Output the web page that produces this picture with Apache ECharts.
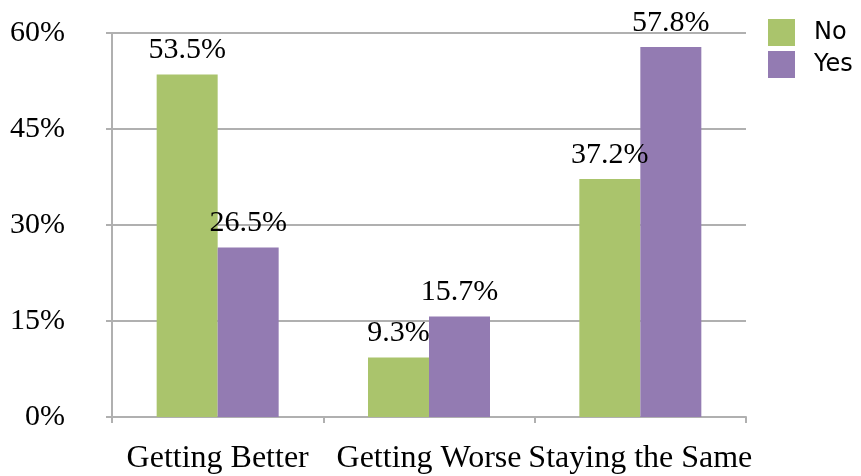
<!DOCTYPE html>
<html>
<head>
<meta charset="utf-8">
<script src="https://cdn.jsdelivr.net/npm/echarts@6/dist/echarts.min.js"></script>
<style>
  html, body { margin: 0; padding: 0; background: #fff; }
  #chart { width: 861px; height: 476px; }
</style>
</head>
<body>
<div id="chart"></div>
<script>
// Outlook by group, share of respondents (%)
const categories = ['Getting Better', 'Getting Worse', 'Staying the Same'];
const seriesNames = ['No', 'Yes'];
const noValues = [53.5, 9.3, 37.2];
const yesValues = [26.5, 15.7, 57.8];

const GRAY = '#B0B0B0';
const SERIF = '"Liberation Serif", "DejaVu Serif", serif';

const chart = echarts.init(document.getElementById('chart'), null, { renderer: 'canvas' });

const valueLabel = {
  show: true,
  position: 'top',
  distance: 9,
  color: '#000',
  fontFamily: SERIF,
  fontSize: 30,
  formatter: p => p.value.toFixed(1) + '%'
};

chart.setOption({
  animation: false,
  backgroundColor: '#fff',
  grid: { left: 112, right: 115, top: 33, bottom: 59 },
  legend: {
    orient: 'vertical',
    left: 763,
    top: 14,
    itemWidth: 27,
    itemHeight: 27,
    itemGap: 5,
    icon: 'rect',
    textStyle: {
      fontFamily: '"DejaVu Sans", sans-serif',
      fontSize: 24,
      color: '#000',
      padding: [0, 0, 0, 14]
    },
    data: seriesNames
  },
  xAxis: {
    type: 'category',
    data: categories,
    axisLine: { show: true, lineStyle: { color: GRAY, width: 2 } },
    axisTick: { show: true, length: 6, lineStyle: { color: GRAY, width: 2 } },
    axisLabel: {
      color: '#000',
      fontFamily: SERIF,
      fontSize: 32,
      margin: 26,
      interval: 0
    }
  },
  yAxis: {
    type: 'value',
    min: 0,
    max: 60,
    interval: 15,
    axisLine: { show: true, lineStyle: { color: GRAY, width: 2 } },
    axisTick: { show: true, length: 6, lineStyle: { color: GRAY, width: 2 } },
    splitLine: { show: true, lineStyle: { color: GRAY, width: 2 } },
    axisLabel: {
      color: '#000',
      fontFamily: SERIF,
      fontSize: 30,
      margin: 47,
      formatter: v => v + '%'
    }
  },
  series: [
    {
      name: seriesNames[0],
      type: 'bar',
      data: noValues,
      barWidth: 61,
      barGap: '0%',
      itemStyle: { color: '#AAC46C' },
      label: valueLabel
    },
    {
      name: seriesNames[1],
      type: 'bar',
      data: yesValues,
      barWidth: 61,
      barGap: '0%',
      itemStyle: { color: '#937BB2' },
      label: valueLabel
    }
  ]
});
</script>
</body>
</html>
